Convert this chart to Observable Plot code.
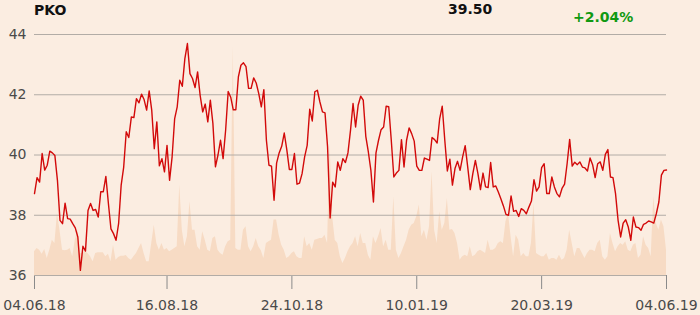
<!DOCTYPE html>
<html>
<head>
<meta charset="utf-8">
<script src="https://cdn.jsdelivr.net/npm/d3@7"></script>
<script src="https://cdn.jsdelivr.net/npm/@observablehq/plot@0.6"></script>
<style>
  html, body { margin: 0; padding: 0; background: #fbede1; }
  #wrap { width: 700px; height: 315px; position: relative; background: #fbede1; font-family: "DejaVu Sans", sans-serif; }
  #head { position: relative; height: 24px; }
  #head span { position: absolute; font-size: 14px; font-weight: bold; line-height: 16px; white-space: nowrap; }
  #t1 { left: 34px; top: 2px; color: #111; }
  #t2 { left: 448px; top: 1px; color: #111; }
  #t3 { left: 573px; top: 9px; color: #119911; }
  svg [aria-label="x-axis tick"] path, svg g[aria-label="x-axis"] .tick line { stroke: #8a8a8a; }
</style>
</head>
<body>
<div id="wrap">
  <div id="head"><span id="t1"></span><span id="t2"></span><span id="t3"></span></div>
  <div id="chart"></div>
</div>
<script>
const title = "PKO";
const lastPrice = "39.50";
const change = "+2.04%";

const tickIndex = [0, 52, 101, 150, 199, 248];
const tickLabels = ["04.06.18", "16.08.18", "24.10.18", "10.01.19", "20.03.19", "04.06.19"];
const yTicks = [36, 38, 40, 42, 44];

const price = [
  38.72,39.25,39.1,40.05,39.5,39.66,40.13,40.07,39.98,39.16,
  37.83,37.72,38.4,37.89,37.87,37.72,37.58,37.28,36.17,36.97,
  36.81,38.16,38.39,38.16,38.19,37.94,38.78,38.78,39.29,38.39,
  37.55,37.39,37.17,37.72,38.99,39.6,40.77,40.58,41.26,41.24,
  41.87,41.73,42.02,41.84,41.49,42.13,41.49,40.21,41.1,39.64,39.88,
  39.44,40.32,39.16,39.94,41.21,41.6,42.48,42.28,43.2,43.7,
  42.7,42.54,42.24,42.76,41.98,41.43,41.69,41.1,41.82,41.05,
  39.61,40.0,40.49,39.88,40.82,42.11,41.92,41.5,41.5,42.59,
  42.98,43.06,42.93,42.21,42.21,42.56,42.39,42.04,41.6,42.17,
  40.49,39.66,39.63,38.5,39.73,40.07,40.29,40.73,40.18,39.52,
  39.52,40.05,39.03,39.07,39.38,39.94,40.32,41.52,41.13,42.1,
  42.15,41.76,41.43,41.4,40.27,37.91,39.1,38.94,39.77,39.49,
  39.88,39.75,40.07,40.82,41.71,40.93,41.65,41.95,41.82,40.62,
  40.1,39.49,38.44,40.07,40.49,40.84,40.93,41.62,41.6,40.49,
  39.27,39.4,39.49,40.51,39.6,40.49,40.9,40.71,40.46,39.63,
  39.49,39.49,39.9,39.86,39.82,40.58,40.51,40.4,41.21,41.62,
  40.49,39.47,39.86,39.0,39.55,39.79,39.49,39.94,40.31,39.6,
  38.85,39.38,39.82,39.38,38.85,39.4,38.94,38.92,39.75,38.94,
  38.97,38.77,38.55,38.31,38.03,38.0,38.64,38.13,38.16,37.96,
  38.22,38.16,38.05,38.27,38.47,39.18,38.8,38.94,39.58,39.71,38.72,
  38.72,39.27,38.94,38.72,38.61,38.89,39.03,39.71,40.52,39.63,
  39.76,39.68,39.77,39.6,39.57,39.47,39.9,39.68,39.25,39.71,
  39.77,39.49,40.02,40.18,39.27,39.25,38.72,37.83,37.28,37.74,
  37.85,37.61,37.17,37.94,37.61,37.59,37.5,37.7,37.74,37.81,
  37.78,37.74,38.05,38.44,39.33,39.49,39.5
];

const volume = [
  71,81,76,64,78,51,76,106,96,186,136,76,74,76,81,56,106,136,66,66,
  71,66,56,41,66,68,68,68,56,64,41,91,46,54,58,58,60,51,46,56,
  66,81,96,66,41,41,96,151,96,76,96,
  76,81,71,76,81,86,271,136,86,116,221,136,136,86,76,131,106,76,71,111,
  116,76,66,61,86,101,106,686,81,76,76,136,146,86,71,86,111,86,74,51,
  96,101,106,166,166,121,91,76,51,56,
  66,71,56,51,51,116,86,96,76,106,108,111,111,121,96,391,176,106,96,56,
  36,51,71,86,96,116,86,126,96,96,61,46,116,96,116,141,86,106,76,76,
  236,76,51,66,86,106,136,151,156,176,
  211,116,136,106,146,311,136,96,191,136,156,231,136,138,126,96,46,56,61,56,
  86,56,61,71,76,71,66,106,76,76,81,96,101,96,161,186,116,56,121,106,
  56,66,56,56,96,216,66,61,56,56,66,
  46,51,51,46,61,46,51,76,136,96,56,81,81,66,51,66,76,76,71,96,
  106,56,46,56,126,96,71,86,96,91,101,76,71,91,96,51,61,116,91,81,
  56,236,156,136,166,146,76
];

document.getElementById("t1").textContent = title;
document.getElementById("t2").textContent = lastPrice;
document.getElementById("t3").textContent = change;

const idx = d3.range(price.length);
const volScale = 90.3; // volume units per price unit on the shared axis

const chart = Plot.plot({
  width: 700,
  height: 291,
  marginTop: 10,
  marginBottom: 40,
  marginLeft: 34,
  marginRight: 34,
  style: { background: "transparent", fontFamily: "DejaVu Sans, sans-serif", fontSize: "14px", color: "#4a4a4a", overflow: "visible" },
  x: {
    domain: [0, price.length - 1],
    ticks: tickIndex,
    tickFormat: d => tickLabels[tickIndex.indexOf(d)],
    tickSize: 14,
    tickPadding: 11,
    label: null
  },
  y: {
    domain: [36, 44],
    ticks: yTicks,
    tickSize: 0,
    tickPadding: 8,
    label: null
  },
  marks: [
    Plot.areaY(idx, { x: i => i, y1: 36, y2: i => 36 + volume[i] / volScale, fill: "#f7dbc4" }),
    Plot.ruleY(yTicks, { stroke: "#b2aca6", strokeWidth: 1 }),
    Plot.lineY(idx, { x: i => i, y: i => price[i], stroke: "#d20a0a", strokeWidth: 1.4 })
  ]
});
document.getElementById("chart").appendChild(chart);
</script>
</body>
</html>
